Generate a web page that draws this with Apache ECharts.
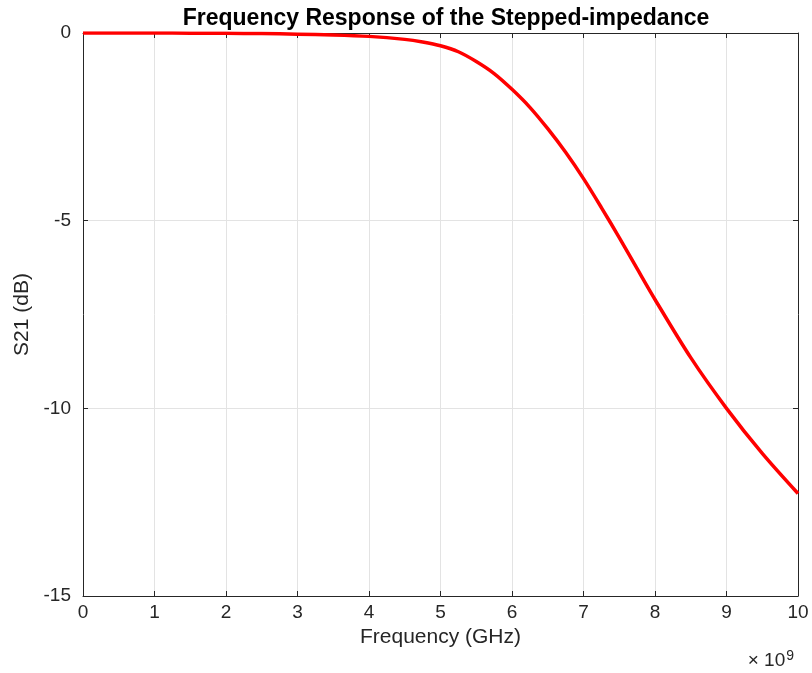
<!DOCTYPE html>
<html>
<head>
<meta charset="utf-8">
<script src="https://cdn.jsdelivr.net/npm/echarts@6/dist/echarts.min.js"></script>
<style>
  html, body { margin: 0; padding: 0; background: #fff; }
  #chart { width: 812px; height: 673px; }
</style>
</head>
<body>
<div id="chart"></div>
<script>
// frequency (x 10^9 Hz)
const freq = [0, 0.5, 1, 1.5, 2, 2.5, 3, 3.5, 4, 4.5, 4.75, 5, 5.25, 5.5, 5.75, 6, 6.25, 6.5, 6.75, 7, 7.25, 7.5, 7.75, 8, 8.5, 9, 9.5, 10]
// S21 in dB
const s21 = [0, 0, -0.002, -0.004, -0.008, -0.015, -0.03, -0.05, -0.09, -0.17, -0.24, -0.34, -0.5, -0.76, -1.08, -1.5, -1.98, -2.55, -3.18, -3.88, -4.65, -5.45, -6.28, -7.1, -8.65, -10.0, -11.2, -12.27]
const xTicks = [0, 1, 2, 3, 4, 5, 6, 7, 8, 9, 10]
const yTicks = [0, -5, -10, -15]

const font = 'Liberation Sans, Arial, Helvetica, sans-serif'
const axisColor = '#262626'

const chart = echarts.init(document.getElementById('chart'))

const baseAxis = {
    axisLine: { show: true, onZero: false, lineStyle: { color: axisColor, width: 1 } },
    axisTick: { show: true, inside: true, length: 5, lineStyle: { color: axisColor } },
    splitLine: { show: false }
}

chart.setOption({
    animation: false,
    title: {
        text: 'Frequency Response of the Stepped-impedance',
        left: 441,
        textAlign: 'center',
        top: 2,
        textStyle: { fontFamily: font, fontSize: 23, fontWeight: 'bold', color: '#000' }
    },
    grid: { left: 83, right: 14, top: 33, bottom: 77 },
    xAxis: [
        Object.assign({}, baseAxis, {
            type: 'value', min: 0, max: 10, interval: 1,
            name: 'Frequency (GHz)', nameLocation: 'middle', nameGap: 28,
            nameTextStyle: { fontFamily: font, fontSize: 21, color: axisColor },
            axisLabel: { fontFamily: font, fontSize: 19, color: axisColor, margin: 7,
                formatter: v => xTicks.includes(v) ? String(v) : '' },
            splitLine: { show: true, lineStyle: { color: '#e3e3e3', width: 1 } }
        }),
        Object.assign({}, baseAxis, {
            type: 'value', min: 0, max: 10, interval: 1, position: 'top',
            axisLabel: { show: false }
        })
    ],
    yAxis: [
        Object.assign({}, baseAxis, {
            type: 'value', min: -15, max: 0, interval: 5,
            name: 'S21 (dB)', nameLocation: 'middle', nameGap: 48,
            nameTextStyle: { fontFamily: font, fontSize: 21, color: axisColor },
            axisLabel: { fontFamily: font, fontSize: 19, color: axisColor, margin: 12,
                formatter: v => yTicks.includes(v) ? String(v) : '' },
            splitLine: { show: true, lineStyle: { color: '#e3e3e3', width: 1 } }
        }),
        Object.assign({}, baseAxis, {
            type: 'value', min: -15, max: 0, interval: 5, position: 'right',
            axisLabel: { show: false }
        })
    ],
    graphic: [{
        type: 'text',
        right: 18,
        top: 649,
        style: {
            text: '× 10{s|9}',
            rich: { s: { fontSize: 14, fontFamily: font, fill: axisColor, verticalAlign: 'top', padding: [0, 0, 10, 1] } },
            font: '19px ' + font,
            fill: axisColor
        }
    }],
    series: [{
        type: 'line',
        data: freq.map((f, i) => [f, s21[i]]),
        smooth: 0.3,
        showSymbol: false,
        lineStyle: { color: '#ff0000', width: 3.5 }
    }]
})
</script>
</body>
</html>
